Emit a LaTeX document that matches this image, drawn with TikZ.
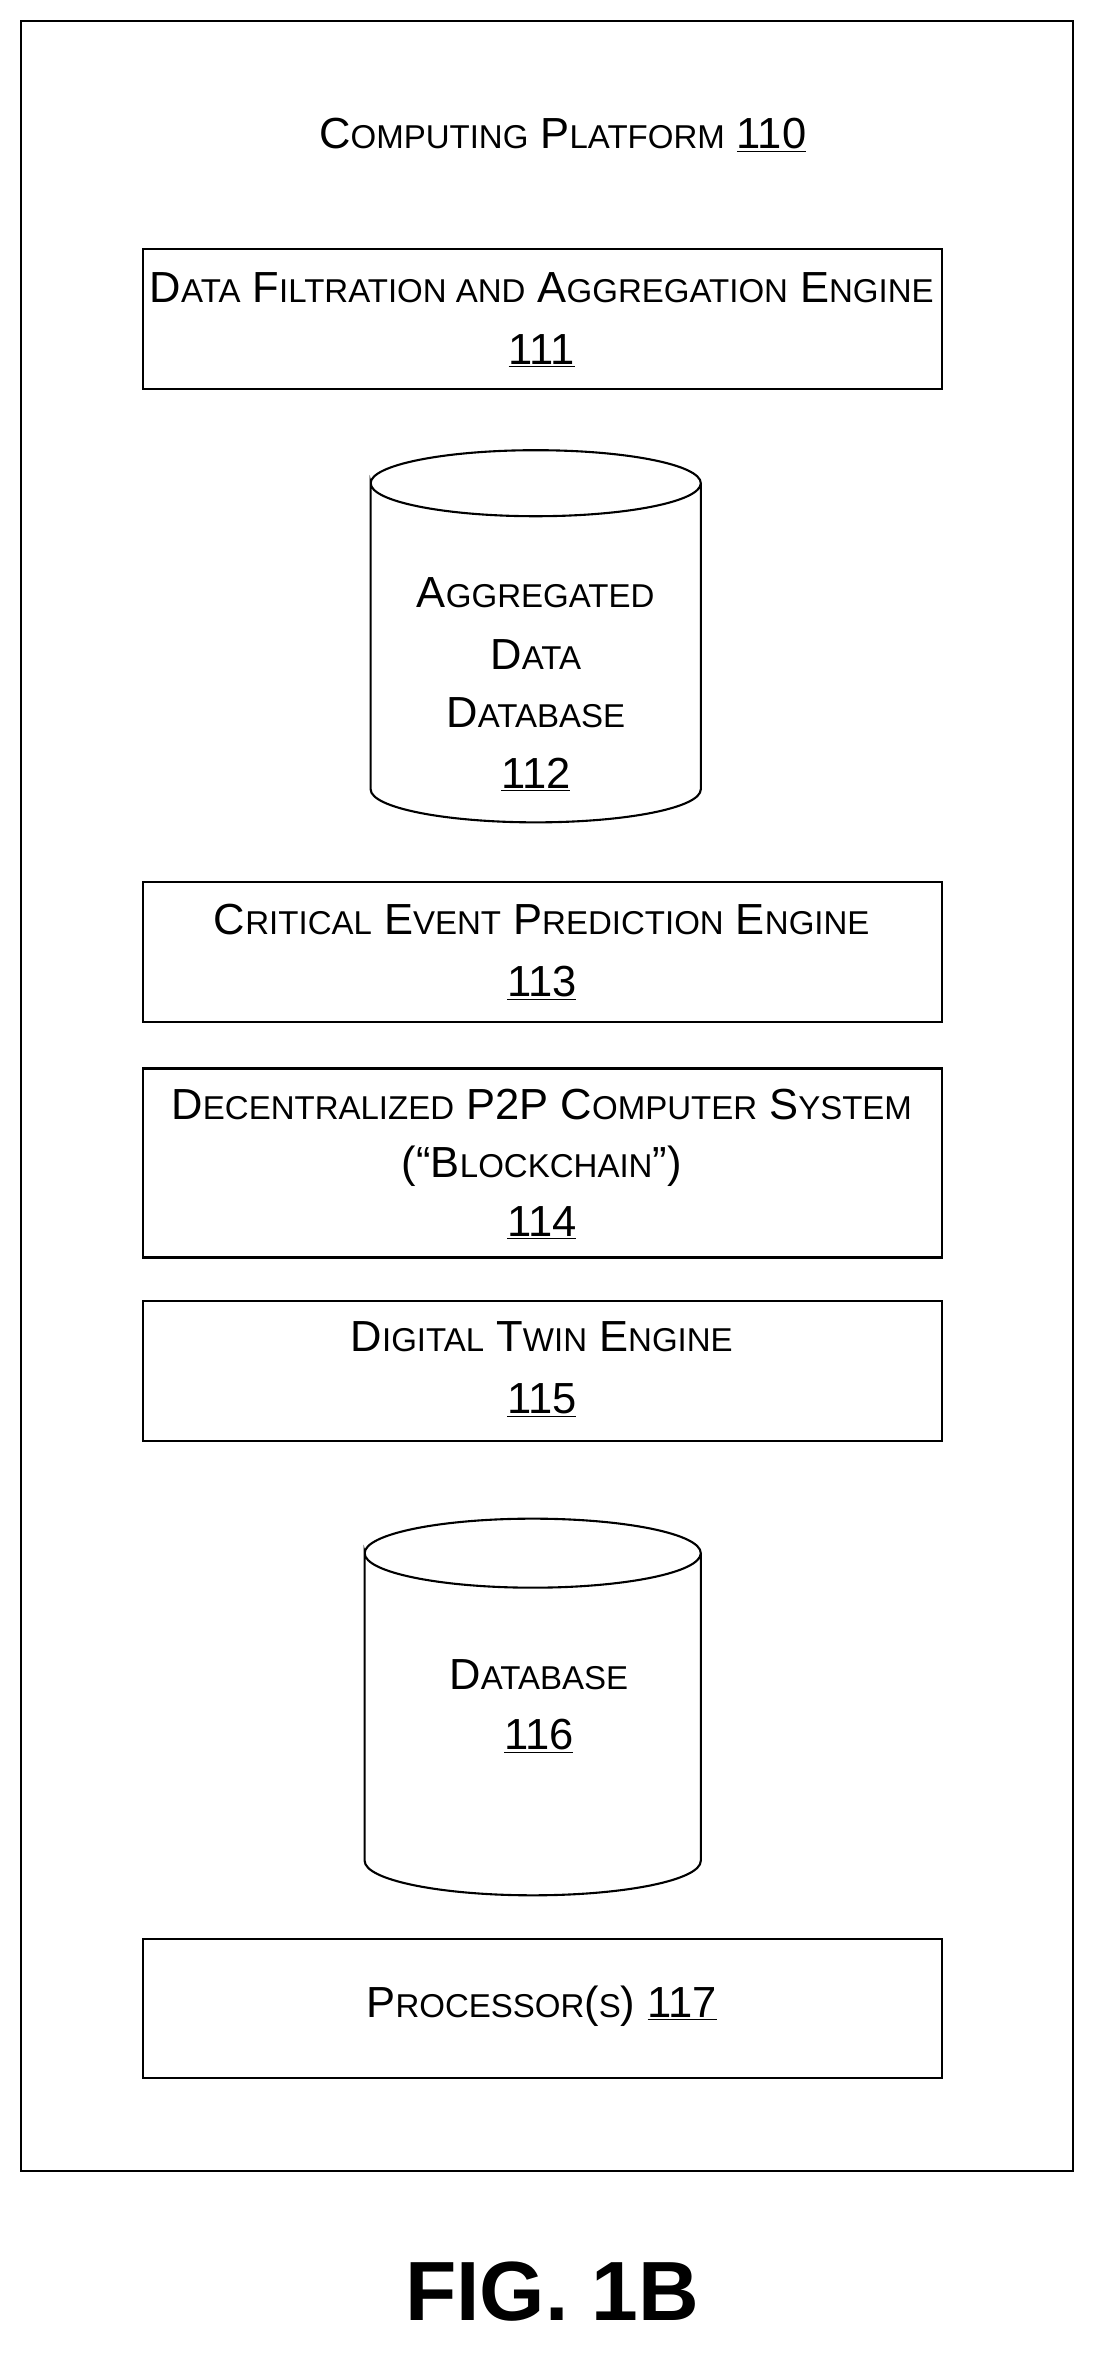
\documentclass[tikz,border=0pt]{standalone}
\usepackage{fontspec}
\setmainfont{Liberation Sans}
\newcommand\SC[1]{{\fontsize{22}{24}\selectfont #1}}
\begin{document}
\begin{tikzpicture}[x=1pt,y=-1pt,
  box/.style={draw,line width=1.4pt},
  lbl/.style={font=\fontsize{29}{34}\selectfont,align=center,inner sep=0}]
\useasboundingbox (0,0) rectangle (735,1580);
\draw[box] (14,14) rectangle (715,1447);
\node[lbl] (t) at (375,90) {C\SC{OMPUTING} P\SC{LATFORM} \underline{110}};
\draw[box] (95,166) rectangle (628,259);
\node[lbl] (a1) at (361,192) {D\SC{ATA} F\SC{ILTRATION AND} A\SC{GGREGATION} E\SC{NGINE}};
\node[lbl] (a2) at (361,234) {\underline{111}};
% cylinder 112
\draw[box] (247,322) arc[start angle=180,end angle=360,x radius=110,y radius=22]
  arc[start angle=0,end angle=180,x radius=110,y radius=22] -- (247,526)
  arc[start angle=180,end angle=0,x radius=110,y radius=22] -- (467,322);
\node[lbl] (b1) at (357,395) {A\SC{GGREGATED}};
\node[lbl] (b2) at (357,436) {D\SC{ATA}};
\node[lbl] (b3) at (357,475) {D\SC{ATABASE}};
\node[lbl] (b4) at (357,516) {\underline{112}};
\draw[box] (95,588) rectangle (628,681);
\node[lbl] (c1) at (361,613) {C\SC{RITICAL} E\SC{VENT} P\SC{REDICTION} E\SC{NGINE}};
\node[lbl] (c2) at (361,655) {\underline{113}};
\draw[box] (95,712) rectangle (628,838);
\node[lbl] (d1) at (361,736) {D\SC{ECENTRALIZED} P2P C\SC{OMPUTER} S\SC{YSTEM}};
\node[lbl] (d2) at (361,777) {(“B\SC{LOCKCHAIN}”)};
\node[lbl] (d3) at (361,815) {\underline{114}};
\draw[box] (95,867) rectangle (628,960);
\node[lbl] (e1) at (361,891) {D\SC{IGITAL} T\SC{WIN} E\SC{NGINE}};
\node[lbl] (e2) at (361,933) {\underline{115}};
% cylinder 116
\draw[box] (243,1035) arc[start angle=180,end angle=360,x radius=112,y radius=23]
  arc[start angle=0,end angle=180,x radius=112,y radius=23] -- (243,1240)
  arc[start angle=180,end angle=0,x radius=112,y radius=23] -- (467,1035);
\node[lbl] (f1) at (359,1116) {D\SC{ATABASE}};
\node[lbl] (f2) at (359,1157) {\underline{116}};
\draw[box] (95,1292) rectangle (628,1385);
\node[lbl] (g) at (361,1337) {P\SC{ROCESSOR}(\SC{S}) \underline{117}};
\node[font=\fontsize{56}{64}\selectfont\bfseries,inner sep=0] (fig) at (368,1527) {FIG. 1B};
\end{tikzpicture}
\end{document}
